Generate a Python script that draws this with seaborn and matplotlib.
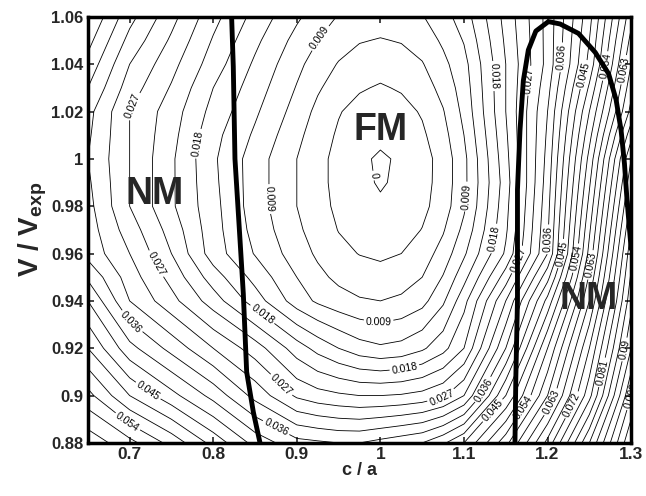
import numpy as np
import matplotlib
matplotlib.use("Agg")
import matplotlib.pyplot as plt
import seaborn as sns

# grid: energy difference on (c/a, V/Vexp)
c_over_a = [0.65, 0.70, 0.75, 0.80, 0.85, 0.90, 0.925, 0.95, 0.975, 1.00,
            1.025, 1.05, 1.075, 1.10, 1.15, 1.20, 1.25, 1.30]
v_ratio = [0.88, 0.90, 0.92, 0.94, 0.95, 0.96, 0.97, 0.98, 0.99, 1.00,
           1.01, 1.02, 1.03, 1.04, 1.05, 1.06]
energy = [
    [0.062, 0.058, 0.053, 0.047, 0.041, 0.037, 0.0365, 0.036, 0.036, 0.037, 0.038, 0.039, 0.0415, 0.045, 0.056, 0.070, 0.087, 0.105],
    [0.055, 0.048, 0.043, 0.038, 0.032, 0.0265, 0.0252, 0.0245, 0.024, 0.024, 0.0243, 0.025, 0.0265, 0.030, 0.045, 0.060, 0.077, 0.099],
    [0.048, 0.040, 0.035, 0.030, 0.0255, 0.0195, 0.017, 0.015, 0.0133, 0.0125, 0.013, 0.0145, 0.017, 0.021, 0.036, 0.054, 0.072, 0.093],
    [0.042, 0.033, 0.028, 0.0225, 0.0165, 0.0105, 0.0085, 0.0072, 0.0063, 0.006, 0.0066, 0.008, 0.0115, 0.017, 0.030, 0.046, 0.066, 0.089],
    [0.0385, 0.0315, 0.026, 0.0195, 0.014, 0.009, 0.0068, 0.0053, 0.0044, 0.0040, 0.0045, 0.006, 0.0092, 0.014, 0.0255, 0.041, 0.0635, 0.0875],
    [0.035, 0.030, 0.024, 0.0165, 0.0118, 0.0075, 0.0055, 0.0038, 0.0029, 0.0025, 0.0030, 0.0045, 0.0072, 0.0115, 0.0215, 0.036, 0.061, 0.086],
    [0.0345, 0.0285, 0.0228, 0.0162, 0.011, 0.0066, 0.0046, 0.0029, 0.0017, 0.0012, 0.0017, 0.0031, 0.0057, 0.0098, 0.0205, 0.0355, 0.0595, 0.084],
    [0.034, 0.027, 0.0215, 0.016, 0.0105, 0.006, 0.0040, 0.0024, 0.0009, 0.0003, 0.0008, 0.0022, 0.0045, 0.0085, 0.020, 0.035, 0.058, 0.082],
    [0.0335, 0.027, 0.0215, 0.0157, 0.0105, 0.006, 0.0038, 0.0022, 0.0005, -0.0002, 0.0004, 0.0019, 0.0042, 0.0082, 0.0195, 0.0345, 0.0565, 0.080],
    [0.033, 0.027, 0.0215, 0.0155, 0.0105, 0.006, 0.0038, 0.0022, 0.0004, -0.0003, 0.0003, 0.0018, 0.0042, 0.0082, 0.020, 0.034, 0.055, 0.078],
    [0.0335, 0.027, 0.022, 0.016, 0.0115, 0.0068, 0.0044, 0.0026, 0.0011, 0.0005, 0.0010, 0.0025, 0.0049, 0.0090, 0.0205, 0.0335, 0.053, 0.074],
    [0.034, 0.027, 0.0225, 0.017, 0.0125, 0.0078, 0.0052, 0.0032, 0.0020, 0.0015, 0.0020, 0.0033, 0.0058, 0.0098, 0.021, 0.033, 0.051, 0.070],
    [0.036, 0.0285, 0.0237, 0.018, 0.0135, 0.0088, 0.0064, 0.0045, 0.0033, 0.0027, 0.0033, 0.0045, 0.0070, 0.0104, 0.021, 0.032, 0.0485, 0.068],
    [0.038, 0.030, 0.025, 0.0195, 0.0145, 0.0098, 0.0076, 0.0058, 0.0046, 0.0042, 0.0046, 0.0058, 0.0082, 0.011, 0.021, 0.031, 0.046, 0.066],
    [0.040, 0.032, 0.0265, 0.0207, 0.0157, 0.011, 0.009, 0.0073, 0.0062, 0.0058, 0.0062, 0.0073, 0.0095, 0.0122, 0.0215, 0.031, 0.045, 0.064],
    [0.042, 0.034, 0.028, 0.022, 0.017, 0.0125, 0.0105, 0.0088, 0.0078, 0.0075, 0.0078, 0.0088, 0.0108, 0.0135, 0.022, 0.031, 0.044, 0.062],
]

# NM / FM phase boundaries
left_ca = [0.822, 0.824, 0.826, 0.832, 0.836, 0.840, 0.848, 0.856]
left_v = [1.06, 1.039, 1.0, 0.966, 0.943, 0.91, 0.893, 0.88]
right_ca = [1.161, 1.162, 1.164, 1.164, 1.164, 1.167, 1.171, 1.177, 1.186, 1.201, 1.215,
            1.237, 1.257, 1.273, 1.282, 1.288, 1.292, 1.295, 1.300]
right_v = [0.880, 0.907, 0.940, 0.962, 0.987, 1.012, 1.033, 1.046, 1.054, 1.058, 1.057,
           1.053, 1.045, 1.036, 1.025, 1.012, 0.998, 0.983, 0.962]

level_step = 0.003
label_step = 0.009
x_ticks = [0.7, 0.8, 0.9, 1.0, 1.1, 1.2, 1.3]
y_ticks = [0.88, 0.90, 0.92, 0.94, 0.96, 0.98, 1.00, 1.02, 1.04, 1.06]

sns.set_style("ticks", {"xtick.direction": "in", "ytick.direction": "in"})
plt.rcParams["font.family"] = ["Liberation Sans", "DejaVu Sans"]
plt.rcParams["mathtext.fontset"] = "custom"
plt.rcParams["mathtext.bf"] = "Liberation Sans:bold"
plt.rcParams["mathtext.rm"] = "Liberation Sans:bold"

fig = plt.figure(figsize=(6.46, 4.96), dpi=100)
ax = fig.add_axes([0.136, 0.107, 0.841, 0.859])

E = np.array(energy)
all_levels = np.round(np.arange(0, 0.1065, level_step), 3)
label_levels = np.round(np.arange(0, 0.1, label_step), 3)
plain_levels = [l for l in all_levels if l not in label_levels]

ax.contour(c_over_a, v_ratio, E, levels=plain_levels, colors="k", linewidths=0.6)
cs = ax.contour(c_over_a, v_ratio, E, levels=label_levels, colors="k", linewidths=0.6)

label_pos = [
    (0.993, 0.993),
    (0.928, 1.051), (0.869, 0.983), (1.107, 0.984), (0.997, 0.929),
    (0.79, 1.006), (1.135, 1.035), (0.856, 0.933), (1.141, 0.966), (1.032, 0.907),
    (0.70, 1.023), (1.179, 1.033), (0.733, 0.956), (0.88, 0.904), (1.075, 0.897), (1.167, 0.957),
    (1.209, 1.043), (0.697, 0.929), (0.876, 0.887), (1.131, 0.901), (1.2, 0.966),
    (1.239, 1.036), (0.72, 0.901), (1.143, 0.891), (1.217, 0.96),
    (1.259, 1.04), (0.70, 0.89), (1.179, 0.893), (1.235, 0.958),
    (1.286, 1.038), (1.206, 0.897), (1.255, 0.955),
    (1.235, 0.895), (1.263, 0.91), (1.286, 0.92), (1.295, 0.904),
]
ax.clabel(cs, manual=label_pos, fmt=lambda v: "%g" % v, fontsize=7.5,
          inline=True, inline_spacing=2)

sns.lineplot(x=left_ca, y=left_v, sort=False, estimator=None, color="k", lw=3.5, ax=ax)
sns.lineplot(x=right_ca, y=right_v, sort=False, estimator=None, color="k", lw=3.5, ax=ax)

ax.text(1.0, 1.012, "FM", fontsize=27, fontweight="bold", ha="center", va="center")
ax.text(0.73, 0.985, "NM", fontsize=27, fontweight="bold", ha="center", va="center")
ax.text(1.249, 0.941, "NM", fontsize=27, fontweight="bold", ha="center", va="center")

ax.set_xlim(0.65, 1.3)
ax.set_ylim(0.88, 1.06)
ax.set_xticks(x_ticks)
ax.set_xticklabels(["%g" % t for t in x_ticks], fontweight="bold", fontsize=12.5)
ax.set_yticks(y_ticks)
ax.set_yticklabels(["%g" % t for t in y_ticks], fontweight="bold", fontsize=12)
ax.tick_params(axis="both", which="both", direction="in", top=True, right=True,
               length=4, width=1.2, pad=3)
ax.set_xlabel("c / a", fontsize=13, fontweight="bold", labelpad=0)
ax.set_ylabel(r"V / V$_{\mathbf{exp}}$", fontsize=20, fontweight="bold", labelpad=2)
for s in ax.spines.values():
    s.set_linewidth(2.5)
    s.set_color("k")

fig.savefig("out.png", dpi=100, facecolor="white")
